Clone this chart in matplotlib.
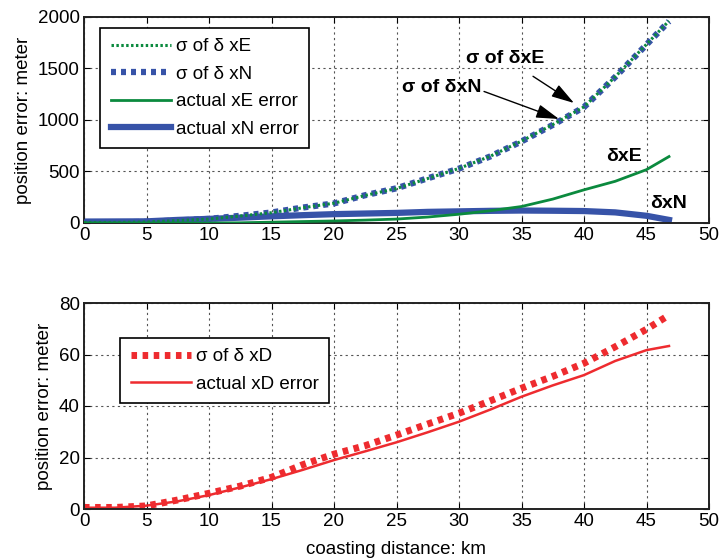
import matplotlib
matplotlib.use('Agg')
import matplotlib.pyplot as plt
import numpy as np

plt.rcParams['font.family'] = ['Liberation Sans', 'DejaVu Sans']

# coasting distance (km) where values were sampled
dist = [0, 2.5, 5, 7.5, 10, 12.5, 15, 17.5, 20, 22.5, 25, 27.5, 30,
        32.5, 35, 37.5, 40, 42.5, 45, 46.8]

# horizontal errors (m)
sigma_xE = [5, 6, 10, 24, 38, 68, 100, 148, 192, 268, 335, 432, 530,
            648, 795, 955, 1128, 1420, 1735, 1962]
sigma_xN = [5, 6, 11, 25, 40, 70, 102, 150, 190, 270, 337, 434, 528,
            646, 792, 952, 1125, 1418, 1732, 1958]
actual_xE = [0, 0, 0, 0, 0, 2, 8, 14, 20, 28, 38, 58, 85,
             119, 160, 232, 322, 405, 518, 645]
actual_xN = [14, 15, 16, 30, 40, 52, 65, 76, 86, 92, 98, 108, 113,
             118, 121, 119, 116, 103, 70, 30]

# down error (m)
sigma_xD = [0.6, 0.6, 1.2, 3.5, 6.1, 8.9, 12.3, 17.2, 21.3, 24.6, 28.7,
            33.0, 37.2, 42.0, 46.9, 51.5, 56.6, 63.0, 69.8, 75.3]
actual_xD = [0.5, 0.5, 1.3, 3.0, 5.4, 8.4, 11.6, 15.2, 19.0, 22.4, 25.9,
             29.8, 33.9, 38.6, 43.6, 48.0, 52.0, 57.5, 61.7, 63.3]

green = '#0b8a3e'
blue = '#3753a8'
red = '#ee2b2f'

fig = plt.figure(figsize=(7.2, 5.6), dpi=100)
ax1 = fig.add_axes([84/720, 1 - 223/560, 625/720, 206/560])
ax2 = fig.add_axes([84/720, 1 - 509/560, 625/720, 206/560])

dots = (0, (0.8, 0.8))

l2, = ax1.plot(dist, sigma_xN, color=blue, lw=4.5, ls=dots, zorder=3,
               label=r'σ of δ xN')
l1, = ax1.plot(dist, sigma_xE, color=green, lw=2.2, ls=dots, zorder=4,
               label=r'σ of δ xE')
l3, = ax1.plot(dist, actual_xE, color=green, lw=2, zorder=3,
               label='actual xE error')
l4, = ax1.plot(dist, actual_xN, color=blue, lw=4.5, zorder=2,
               label='actual xN error')

ax2.plot(dist, sigma_xD, color=red, lw=5, ls=dots, label='σ of δ xD')
ax2.plot(dist, actual_xD, color=red, lw=1.8, label='actual xD error')

for ax in (ax1, ax2):
    ax.set_xlim(0, 50)
    ax.set_xticks(np.arange(0, 51, 5))
    ax.grid(True, ls=(0, (2, 3)), color='#555555', lw=0.8)
    ax.tick_params(direction='in', top=True, right=True, labelsize=13.5,
                   length=4, width=0.8, pad=3)
    for s in ax.spines.values():
        s.set_linewidth(1.4)
        s.set_color('#222222')
    ax.set_ylabel('position error: meter', fontsize=13.5, labelpad=4)

ax1.set_ylim(0, 2000)
ax1.set_yticks(np.arange(0, 2001, 500))
ax2.set_ylim(0, 80)
ax2.set_yticks(np.arange(0, 81, 20))
ax2.set_xlabel('coasting distance: km', fontsize=13.5, labelpad=8)

leg_kw = dict(loc='upper left', fontsize=13.5, fancybox=False, framealpha=1,
              edgecolor='black', borderaxespad=0, handlelength=3.2,
              borderpad=0.55, labelspacing=0.55, handletextpad=0.3)
leg1 = ax1.legend(handles=[l1, l2, l3, l4], bbox_to_anchor=(0.026, 0.947),
                  **leg_kw)
leg1.get_frame().set_linewidth(1.2)
leg2 = ax2.legend(bbox_to_anchor=(0.058, 0.83), **leg_kw)
leg2.get_frame().set_linewidth(1.2)

arrow = dict(arrowstyle='-|>,head_length=1.0,head_width=0.3',
             color='black', lw=1)
ax1.annotate('σ of δxE', xy=(39.2, 1165), xytext=(33.7, 1600),
             ha='center', va='center', fontsize=14, fontweight='bold',
             arrowprops=dict(arrow, shrinkA=9, shrinkB=0))
ax1.annotate('σ of δxN', xy=(38.0, 1010), xytext=(28.6, 1320),
             ha='center', va='center', fontsize=14, fontweight='bold',
             arrowprops=dict(arrow, shrinkA=0, shrinkB=0,
                             relpos=(1.0, 0.3)))
ax1.text(43.2, 641, 'δxE', ha='center', va='center', fontsize=14,
         fontweight='bold')
ax1.text(46.8, 185, 'δxN', ha='center', va='center', fontsize=14,
         fontweight='bold')

fig.savefig('out.png', dpi=100)
